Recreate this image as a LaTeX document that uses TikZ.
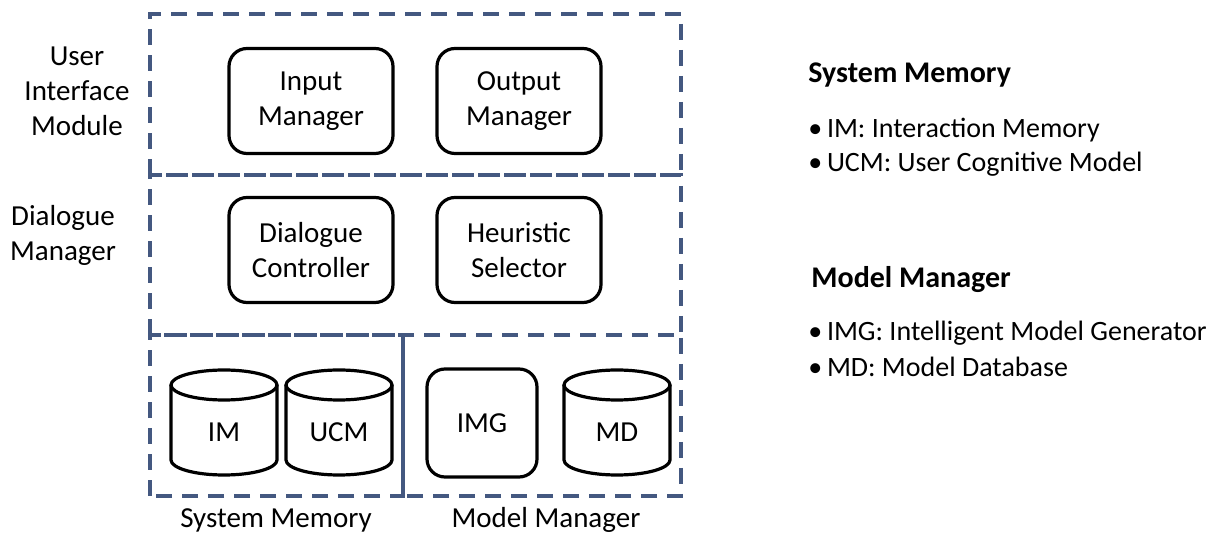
\documentclass[tikz,border=0pt]{standalone}
\usepackage{fontspec}
\setmainfont{Carlito}
\usetikzlibrary{positioning}
\definecolor{dashblue}{RGB}{68,88,128}

\begin{document}
\begin{tikzpicture}[x=0.5pt,y=0.5pt,
  every node/.style={font=\fontsize{14.5}{17.5}\selectfont},
  module/.style={draw=dashblue, line width=1.8pt, dash pattern=on 8pt off 5pt},
  unit/.style={draw, line width=1.6pt, rounded corners=9pt, align=center,
    minimum width=82pt, minimum height=52.5pt, inner sep=0pt},
  side/.style={align=center},
  item/.style={anchor=west, inner sep=0pt, font=\fontsize{14}{17}\selectfont}]
\useasboundingbox (0,0) rectangle (1220,535);

% Modules
\draw[module] (150,360) rectangle (681,521);
\draw[module] (150,200) rectangle (681,360);
\draw[module] (150,39) rectangle (403,200);
\draw[module] (403,39) rectangle (681,200);

% Module names
\node[side] (uim) at (77,444) {User\\Interface\\Module};
\node[side] (dm) at (63,300) {Dialogue\\Manager};
\node (smname) at (276,15) {System Memory};
\node (mmname) at (546,15) {Model Manager};

% Components
\node[unit] (input) at (311,434) {Input\\Manager};
\node[unit] (output) at (519,434) {Output\\Manager};
\node[unit] (ctrl) at (311,285) {Dialogue\\Controller};
\node[unit] (heur) at (519,285) {Heuristic\\Selector};
\node[unit, minimum width=55pt, minimum height=54pt] (img) at (482,112) {};
\node (imgtext) at (482,112) {IMG};

% Databases
\foreach \cx/\name/\txt in {224/im/IM, 339/ucm/UCM, 617/md/MD} {
  \filldraw[fill=white, line width=1.6pt] (\cx-53,150) -- (\cx-53,75)
    arc[start angle=180, end angle=360, x radius=53, y radius=15] -- (\cx+53,150);
  \draw[line width=1.6pt] (\cx,150) ellipse[x radius=53, y radius=15];
  \node (\name) at (\cx,103) {\txt};
}

% Legend
\node[item, font=\fontsize{15}{18}\selectfont\bfseries] (smhead) at (808,460) {System Memory};
\node[item] (smim) at (808,405) {\textbullet\,IM: Interaction Memory};
\node[item] (smucm) at (808,371) {\textbullet\,UCM: User Cognitive Model};
\node[item, font=\fontsize{15}{18}\selectfont\bfseries] (mmhead) at (811,255) {Model Manager};
\node[item] (mmimg) at (808,202) {\textbullet\,IMG: Intelligent Model Generator};
\node[item] (mmmd) at (808,168) {\textbullet\,MD: Model Database};
\end{tikzpicture}
\end{document}
